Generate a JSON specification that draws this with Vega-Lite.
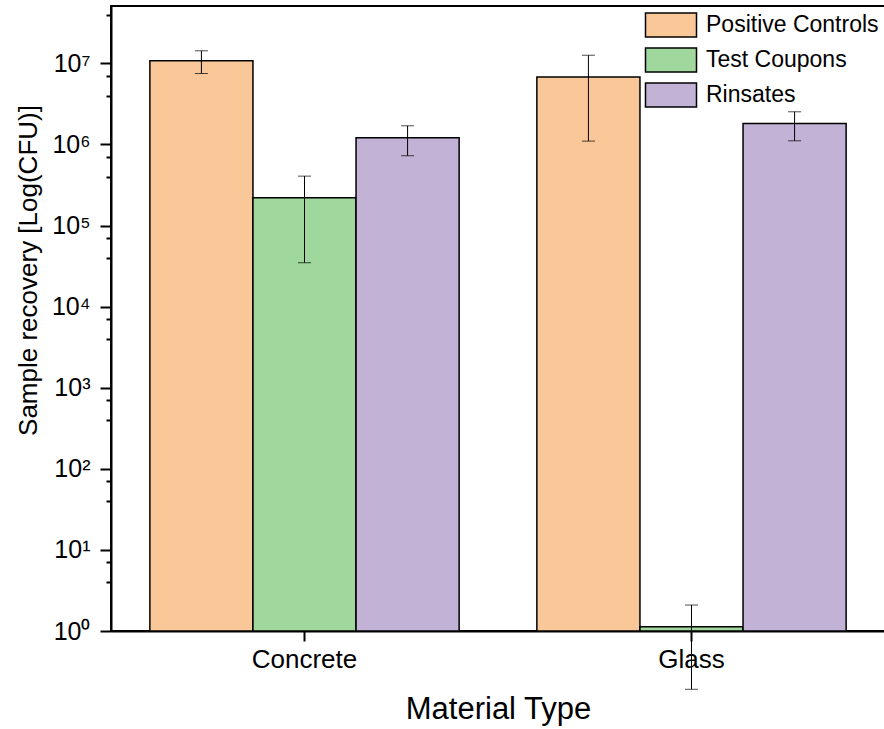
{
  "$schema": "https://vega.github.io/schema/vega-lite/v6.json",
  "width": 774,
  "height": 625,
  "autosize": {"type": "none"},
  "padding": {"left": 111, "top": 6, "right": 0, "bottom": 98},
  "background": "white",
  "config": {
    "view": {"stroke": "black", "strokeWidth": 2},
    "font": "Liberation Sans",
    "axis": {
      "domainColor": "black", "labelColor": "black", "titleColor": "black",
      "domainWidth": 2, "tickWidth": 2, "grid": false,
      "labelFont": "Liberation Sans", "titleFont": "Liberation Sans", "titleFontWeight": "normal"
    },
    "legend": {"labelFont": "Liberation Sans"}
  },
  "data": {
    "values": [
      {"material": "Concrete", "group": "Positive Controls", "value": 10800000, "lo": 7500000, "hi": 14300000},
      {"material": "Concrete", "group": "Test Coupons", "value": 220000, "lo": 34800, "hi": 407000},
      {"material": "Concrete", "group": "Rinsates", "value": 1210000, "lo": 726000, "hi": 1700000},
      {"material": "Glass", "group": "Positive Controls", "value": 6780000, "lo": 1100000, "hi": 12600000},
      {"material": "Glass", "group": "Test Coupons", "value": 1.13, "lo": 0.191, "hi": 2.09},
      {"material": "Glass", "group": "Rinsates", "value": 1820000, "lo": 1110000, "hi": 2530000}
    ]
  },
  "encoding": {
    "x": {
      "field": "material", "type": "nominal", "sort": ["Concrete", "Glass"],
      "scale": {"paddingInner": 0, "paddingOuter": 0},
      "axis": {"title": "Material Type", "labelAngle": 0, "labelFontSize": 26, "labelPadding": 5, "tickSize": 10, "tickColor": "black", "titleFontSize": 31, "titlePadding": 22}
    },
    "xOffset": {
      "field": "group", "type": "nominal", "sort": ["Positive Controls", "Test Coupons", "Rinsates"],
      "scale": {"paddingInner": 0, "paddingOuter": 0.377}
    }
  },
  "resolve": {"scale": {"y": "independent"}, "axis": {"y": "independent"}},
  "layer": [
    {
      "layer": [
        {
          "mark": {"type": "bar", "stroke": "black", "strokeWidth": 1.5},
          "encoding": {
            "y": {
              "field": "value", "type": "quantitative", "title": "Sample recovery [Log(CFU)]",
              "scale": {"type": "log", "domain": [1, 51000000], "nice": false},
              "axis": {
                "values": [1, 10, 100, 1000, 10000, 100000, 1000000, 10000000],
                "labelExpr": "'10' + ['⁰','¹','²','³','⁴','⁵','⁶','⁷'][round(log(datum.value)/LN10)]",
                "tickSize": 11,
                "tickColor": "black",
                "labelOverlap": false,
                "labelFontSize": 25, "labelPadding": 10,
                "titleFontSize": 26, "titleX": -70, "titleY": 264
              }
            },
            "y2": {"datum": 1},
            "fill": {
              "field": "group", "type": "nominal",
              "scale": {"domain": ["Positive Controls", "Test Coupons", "Rinsates"], "range": ["#FAC898", "#9FD79D", "#C2B2D6"]},
              "legend": {
                "title": null, "orient": "none", "legendX": 547, "legendY": 6,
                "labelFontSize": 23, "labelOffset": 22, "labelColor": "black", "labelLimit": 0,
                "symbolType": "M-2.125,-1H2.125V1H-2.125Z", "symbolSize": 576,
                "symbolStrokeColor": "black", "symbolStrokeWidth": 1.5, "rowPadding": 5
              }
            }
          }
        },
        {
          "mark": {"type": "rule", "color": "black", "strokeWidth": 1},
          "encoding": {
            "y": {"field": "lo", "type": "quantitative", "title": "Sample recovery [Log(CFU)]"},
            "y2": {"field": "hi"}
          }
        },
        {
          "mark": {"type": "tick", "color": "black", "thickness": 1, "size": 13},
          "encoding": {"y": {"field": "hi", "type": "quantitative", "title": "Sample recovery [Log(CFU)]"}}
        },
        {
          "mark": {"type": "tick", "color": "black", "thickness": 1, "size": 13},
          "encoding": {"y": {"field": "lo", "type": "quantitative", "title": "Sample recovery [Log(CFU)]"}}
        }
      ]
    },
    {
      "mark": {"type": "bar", "opacity": 0},
      "encoding": {
        "y": {
          "field": "value", "type": "quantitative",
          "scale": {"type": "log", "domain": [1, 51000000], "nice": false},
          "axis": {
            "orient": "left", "title": null, "labels": false, "domain": false,
            "values": [4, 7, 40, 70, 400, 700, 4000, 7000, 40000, 70000, 400000, 700000, 4000000, 7000000, 40000000],
            "tickSize": 5,
            "tickColor": "black"
          }
        },
        "y2": {"datum": 1}
      }
    }
  ]
}
